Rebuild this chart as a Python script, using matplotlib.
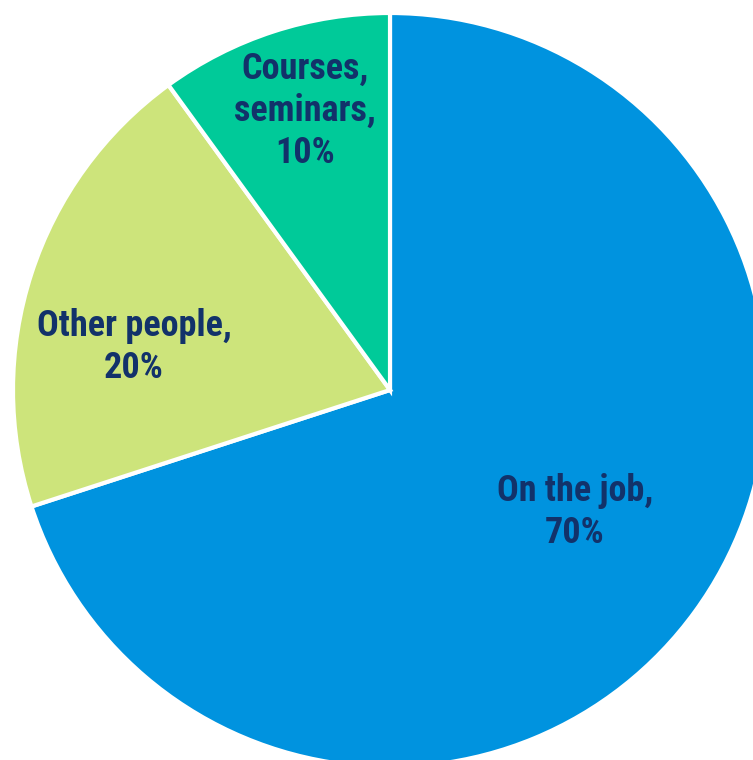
import matplotlib.pyplot as plt
from matplotlib import font_manager

# data
labels = ['On the job', 'Other people', 'Courses,\nseminars']
shares = [70, 20, 10]
colors = ['#0093DF', '#CDE47B', '#00CA99']

# label anchors (pixel-like axes units, y up)
label_xy = [(575, 248), (134, 413), (305, 649)]

names = {f.name for f in font_manager.fontManager.ttflist}
family = 'Roboto Condensed' if 'Roboto Condensed' in names else 'Liberation Sans'

fig = plt.figure(figsize=(7.53, 7.60), dpi=100)
ax = fig.add_axes([0, 0, 1, 1])

cx, cy, r = 390, 370, 377
wedges, _ = ax.pie(shares, colors=colors, startangle=90, counterclock=False,
                   center=(cx, cy), radius=r, frame=True,
                   wedgeprops=dict(edgecolor='white', linewidth=3))
ax.set_xlim(0, 753)
ax.set_ylim(0, 760)
ax.set_aspect('equal')
ax.axis('off')

for lab, val, (x, y) in zip(labels, shares, label_xy):
    ax.text(x, y, f'{lab},\n{val}%', ha='center', va='center',
            fontsize=26, fontweight='bold', color='#12326A', family=family,
            linespacing=1.22)

fig.savefig('out.png', dpi=100)
